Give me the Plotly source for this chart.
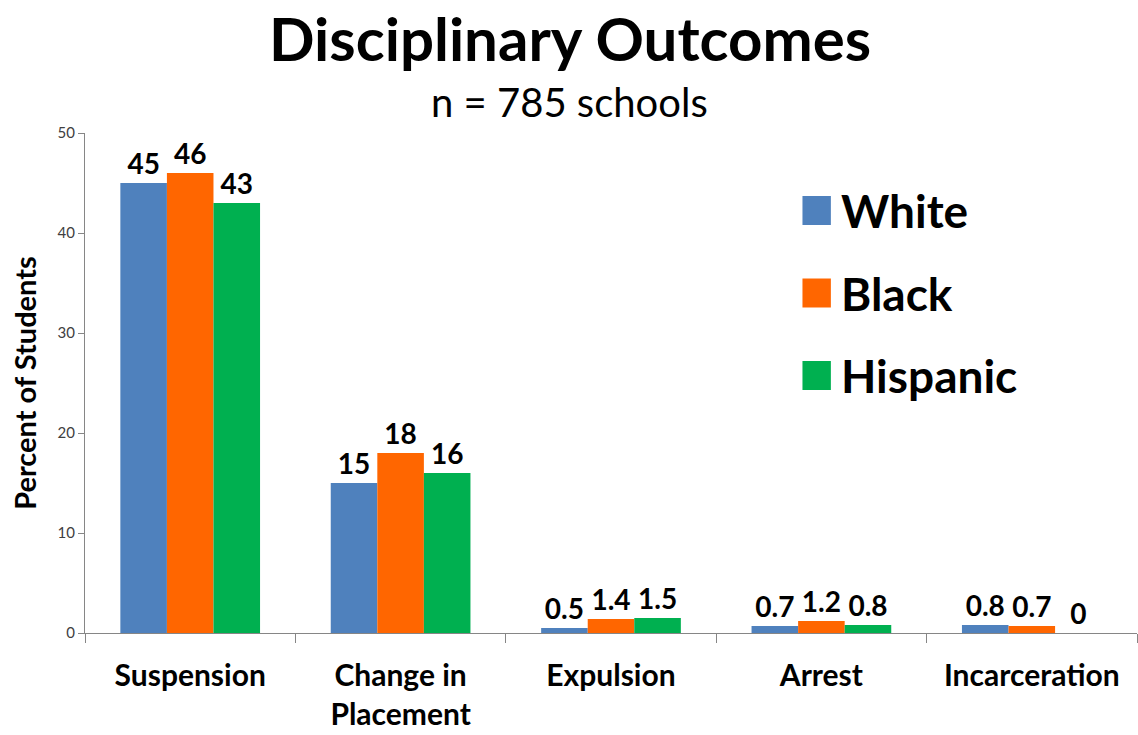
import plotly.graph_objects as go

categories = ["Suspension", "Change in<br>Placement", "Expulsion", "Arrest", "Incarceration"]
white = [45, 15, 0.5, 0.7, 0.8]
black = [46, 18, 1.4, 1.2, 0.7]
hispanic = [43, 16, 1.5, 0.8, 0]

series = [
    ("White", white, "#4F81BD"),
    ("Black", black, "#FF6600"),
    ("Hispanic", hispanic, "#00B050"),
]

FONT = "Lato, 'Open Sans', sans-serif"

fig = go.Figure()
for name, vals, color in series:
    fig.add_trace(go.Bar(
        name=name, x=categories, y=vals,
        marker=dict(color=color, line=dict(width=0)),
        text=[f"{v:g}" for v in vals],
        textposition="outside",
        textfont=dict(family=FONT, size=28, color="black", weight="bold"),
        cliponaxis=False,
        showlegend=False,
    ))

# Legend drawn as large swatches with bold labels
legend_y = [0.845, 0.68, 0.515]
for (name, _, color), ly in zip(series, legend_y):
    fig.add_shape(type="rect", xref="paper", yref="paper",
                  x0=0.682, x1=0.709, y0=ly - 0.029, y1=ly + 0.029,
                  fillcolor=color, line=dict(width=0))
    fig.add_annotation(xref="paper", yref="paper", x=0.717, y=ly,
                       text=name, showarrow=False, xanchor="left", yanchor="middle",
                       font=dict(family=FONT, size=46, color="black", weight="bold"))

# Title and subtitle
fig.add_annotation(xref="paper", yref="paper", x=0.461, y=1.19,
                   text="Disciplinary Outcomes", showarrow=False,
                   xanchor="center", yanchor="middle", borderpad=0,
                   font=dict(family=FONT, size=60, color="black", weight="bold"))
fig.add_annotation(xref="paper", yref="paper", x=0.461, y=1.062,
                   text="n = 785 schools", showarrow=False,
                   xanchor="center", yanchor="middle",
                   font=dict(family=FONT, size=40, color="black"))

fig.update_layout(
    width=1138, height=735,
    margin=dict(l=85, r=1, t=133, b=102),
    paper_bgcolor="white", plot_bgcolor="white",
    barmode="group", bargap=0.336, bargroupgap=0,
    font=dict(family=FONT, color="black"),
    xaxis=dict(
        showline=True, linecolor="#868686", linewidth=1,
        ticks="outside", tickson="boundaries", ticklen=9, tickcolor="#868686",
        tickfont=dict(family=FONT, size=30, color="black", weight="bold"),
        ticklabelstandoff=16,
    ),
    yaxis=dict(
        range=[0, 50], dtick=10, showgrid=False, zeroline=False,
        showline=True, linecolor="#868686", linewidth=1,
        ticks="outside", ticklen=6, tickcolor="#868686",
        tickfont=dict(family=FONT, size=15, color="#404040"),
        title=dict(text="Percent of Students", standoff=12,
                   font=dict(family=FONT, size=29, color="black", weight="bold")),
    ),
)

fig.write_html("out.html")
